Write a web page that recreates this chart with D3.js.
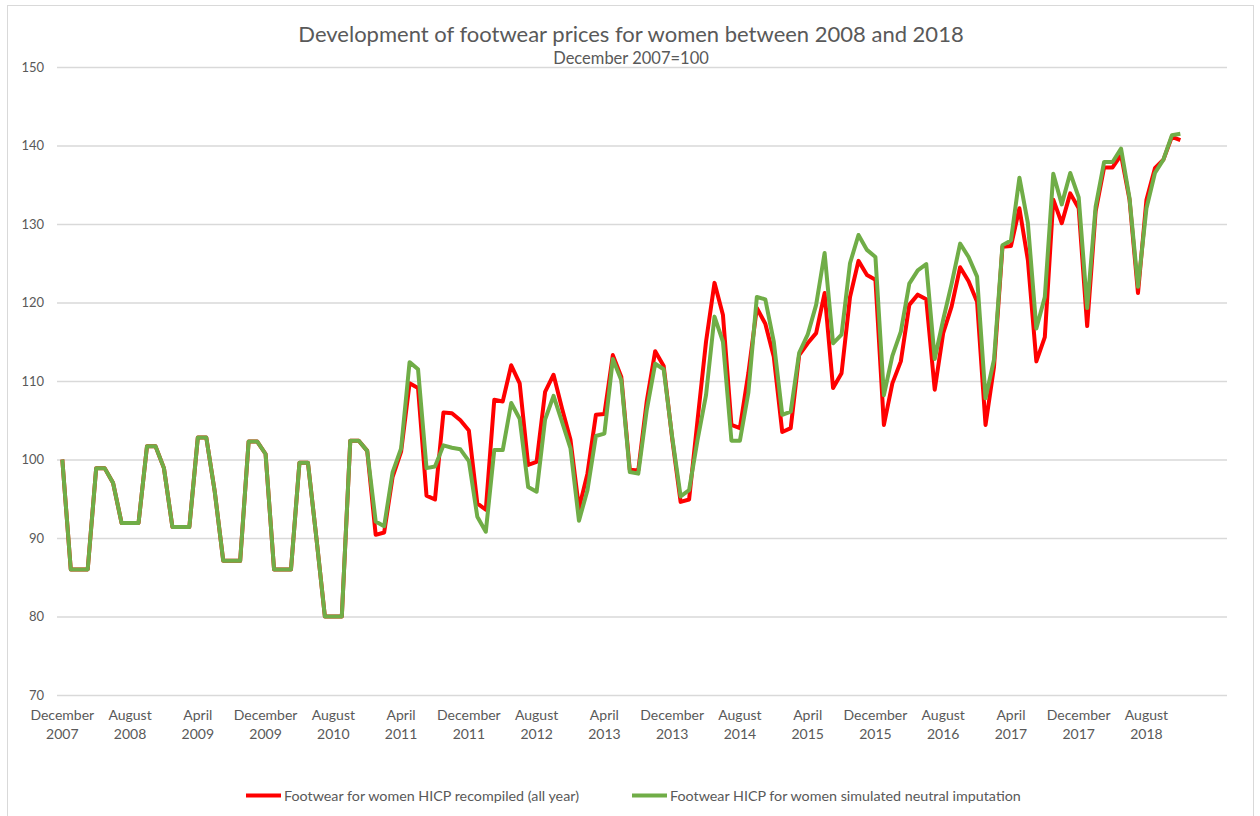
<!DOCTYPE html>
<html>
<head>
<meta charset="utf-8">
<script src="https://cdn.jsdelivr.net/npm/d3@7"></script>
<style>
  body { margin: 0; background: #fff; }
  svg { display: block; font-family: Lato, 'Open Sans', sans-serif; }
</style>
</head>
<body>
<svg width="1260" height="816"></svg>
<script>
var svg = d3.select('svg');

// Monthly index, December 2007 = 100 (Dec 2007 .. Dec 2018)
var recompiled = [
    100, 86, 86, 86, 98.9, 98.9, 97.0, 91.9, 91.9, 91.9, 101.7, 101.7,
    98.9, 91.4, 91.4, 91.4, 102.8, 102.8, 95.9, 87.1, 87.1, 87.1, 102.3, 102.3,
    100.7, 86.0, 86.0, 86.0, 99.6, 99.6, 90.0, 80.0, 80.0, 80.0, 102.4, 102.4,
    101.1, 90.4, 90.7, 97.8, 101.0, 109.7, 109.1, 95.4, 94.9, 106.0, 105.9, 105.0,
    103.7, 94.4, 93.6, 107.6, 107.4, 112.0, 109.7, 99.3, 99.7, 108.6, 110.8, 106.5,
    102.5, 93.8, 98.2, 105.7, 105.8, 113.3, 110.5, 98.7, 98.6, 107.4, 113.8, 111.9,
    102.7, 94.6, 94.9, 105.0, 115.0, 122.5, 118.4, 104.4, 104.0, 111.0, 119.3, 117.3,
    113.1, 103.5, 104.0, 113.3, 114.8, 116.1, 121.2, 109.1, 111.0, 120.7, 125.3, 123.5,
    122.9, 104.4, 109.7, 112.5, 119.7, 121.0, 120.4, 108.9, 116.1, 119.5, 124.5, 122.7,
    120.1, 104.4, 111.8, 127.1, 127.2, 132.0, 125.4, 112.5, 115.6, 133.1, 130.1, 133.9,
    132.0, 117.0, 131.6, 137.2, 137.2, 138.8, 133.1, 121.2, 133.1, 137.1, 138.2, 141.1,
    140.7
];
var simulated = [
    100, 86, 86, 86, 98.9, 98.9, 97.0, 91.9, 91.9, 91.9, 101.7, 101.7,
    98.9, 91.4, 91.4, 91.4, 102.8, 102.8, 95.9, 87.1, 87.1, 87.1, 102.3, 102.3,
    100.7, 86.0, 86.0, 86.0, 99.6, 99.6, 90.0, 80.0, 80.0, 80.0, 102.4, 102.4,
    101.1, 92.1, 91.5, 98.4, 101.4, 112.4, 111.5, 98.9, 99.1, 101.8, 101.5, 101.3,
    99.8, 92.7, 90.8, 101.2, 101.2, 107.2, 105.2, 96.5, 95.9, 105.1, 108.1, 104.8,
    101.4, 92.2, 96.1, 103.0, 103.3, 112.8, 110.1, 98.4, 98.2, 106.3, 112.2, 111.5,
    102.9, 95.3, 96.1, 102.5, 108.2, 118.2, 115.0, 102.4, 102.4, 108.5, 120.7, 120.4,
    115.0, 105.7, 106.1, 113.6, 115.9, 119.7, 126.3, 114.8, 115.9, 125.0, 128.6, 126.7,
    125.8, 108.2, 113.2, 116.3, 122.4, 124.1, 124.9, 112.8, 117.8, 122.4, 127.5, 125.8,
    123.3, 107.8, 112.7, 127.3, 127.9, 135.9, 130.1, 116.7, 120.7, 136.4, 132.5, 136.5,
    133.4, 119.3, 132.2, 137.9, 137.9, 139.6, 133.3, 122.0, 132.0, 136.5, 138.2, 141.3,
    141.5
];

// Category labels every 8 months
var tickMonths = ['December', 'August', 'April', 'December', 'August', 'April',
    'December', 'August', 'April', 'December', 'August', 'April',
    'December', 'August', 'April', 'December', 'August'];
var tickYears = ['2007', '2008', '2009', '2009', '2010', '2011',
    '2011', '2012', '2013', '2013', '2014', '2015',
    '2015', '2016', '2017', '2017', '2018'];
var yTicks = [70, 80, 90, 100, 110, 120, 130, 140, 150];

var seriesNames = ['Footwear for women HICP recompiled (all year)',
    'Footwear HICP for women simulated neutral imputation'];
var seriesColors = ['#ff0000', '#70ad47'];

var textColor = '#595959';
var gridColor = '#d9d9d9';

// Plot area
var plotLeft = 57, plotRight = 1227;
var plotTop = 67, plotBottom = 695;

var x = d3.scaleLinear()
    .domain([0, recompiled.length - 1])
    .range([62.3, 62.3 + 8.47 * (recompiled.length - 1)]);
var y = d3.scaleLinear()
    .domain([70, 150])
    .range([plotBottom, plotTop]);

// Chart frame
svg.append('rect')
    .attr('x', 7.5)
    .attr('y', 5.5)
    .attr('width', 1246)
    .attr('height', 830)
    .attr('fill', 'none')
    .attr('stroke', gridColor);

// Title
svg.append('text')
    .attr('x', 631)
    .attr('y', 42)
    .attr('text-anchor', 'middle')
    .style('font-size', '22px')
    .style('fill', textColor)
    .text('Development of footwear prices for women between 2008 and 2018');
svg.append('text')
    .attr('x', 631)
    .attr('y', 64)
    .attr('text-anchor', 'middle')
    .style('font-size', '16.5px')
    .style('fill', textColor)
    .text('December 2007=100');

// Y axis with gridlines
var yAxis = d3.axisLeft(y)
    .tickValues(yTicks)
    .tickSize(-(plotRight - plotLeft))
    .tickPadding(13);
var yAxisG = svg.append('g')
    .attr('transform', 'translate(' + plotLeft + ',0)')
    .call(yAxis);
yAxisG.select('.domain').remove();
yAxisG.selectAll('line')
    .attr('stroke', gridColor)
    .attr('stroke-width', 1.3);
yAxisG.selectAll('text')
    .style('font-size', '13px')
    .style('font-family', 'Lato')
    .style('fill', textColor);

// X category labels
var xLabelG = svg.selectAll('.x-label')
    .data(tickMonths)
    .enter()
    .append('g')
    .attr('class', 'x-label')
    .attr('transform', function(d, i) {
        return 'translate(' + [x(i * 8), 0] + ')';
    });
xLabelG.append('text')
    .attr('y', 720)
    .attr('text-anchor', 'middle')
    .style('font-size', '14px')
    .style('fill', textColor)
    .text(function(d) { return d; });
xLabelG.append('text')
    .attr('y', 739)
    .attr('text-anchor', 'middle')
    .style('font-size', '14px')
    .style('fill', textColor)
    .text(function(d, i) { return tickYears[i]; });

// Lines
var line = d3.line()
    .x(function(d, i) { return x(i); })
    .y(function(d) { return y(d); });

[recompiled, simulated].forEach(function(series, k) {
    svg.append('path')
        .datum(series)
        .attr('d', line)
        .attr('fill', 'none')
        .attr('stroke', seriesColors[k])
        .attr('stroke-width', 4)
        .attr('stroke-linejoin', 'round');
});

// Legend
var legendX = [246, 632];
var legendG = svg.selectAll('.legend')
    .data(seriesNames)
    .enter()
    .append('g')
    .attr('class', 'legend')
    .attr('transform', function(d, i) {
        return 'translate(' + [legendX[i], 795.5] + ')';
    });
legendG.append('line')
    .attr('x1', 0)
    .attr('x2', 35)
    .attr('stroke', function(d, i) { return seriesColors[i]; })
    .attr('stroke-width', 4);
legendG.append('text')
    .attr('x', 38)
    .attr('y', 5)
    .style('font-size', '14.3px')
    .style('fill', textColor)
    .text(function(d) { return d; });
</script>
</body>
</html>
